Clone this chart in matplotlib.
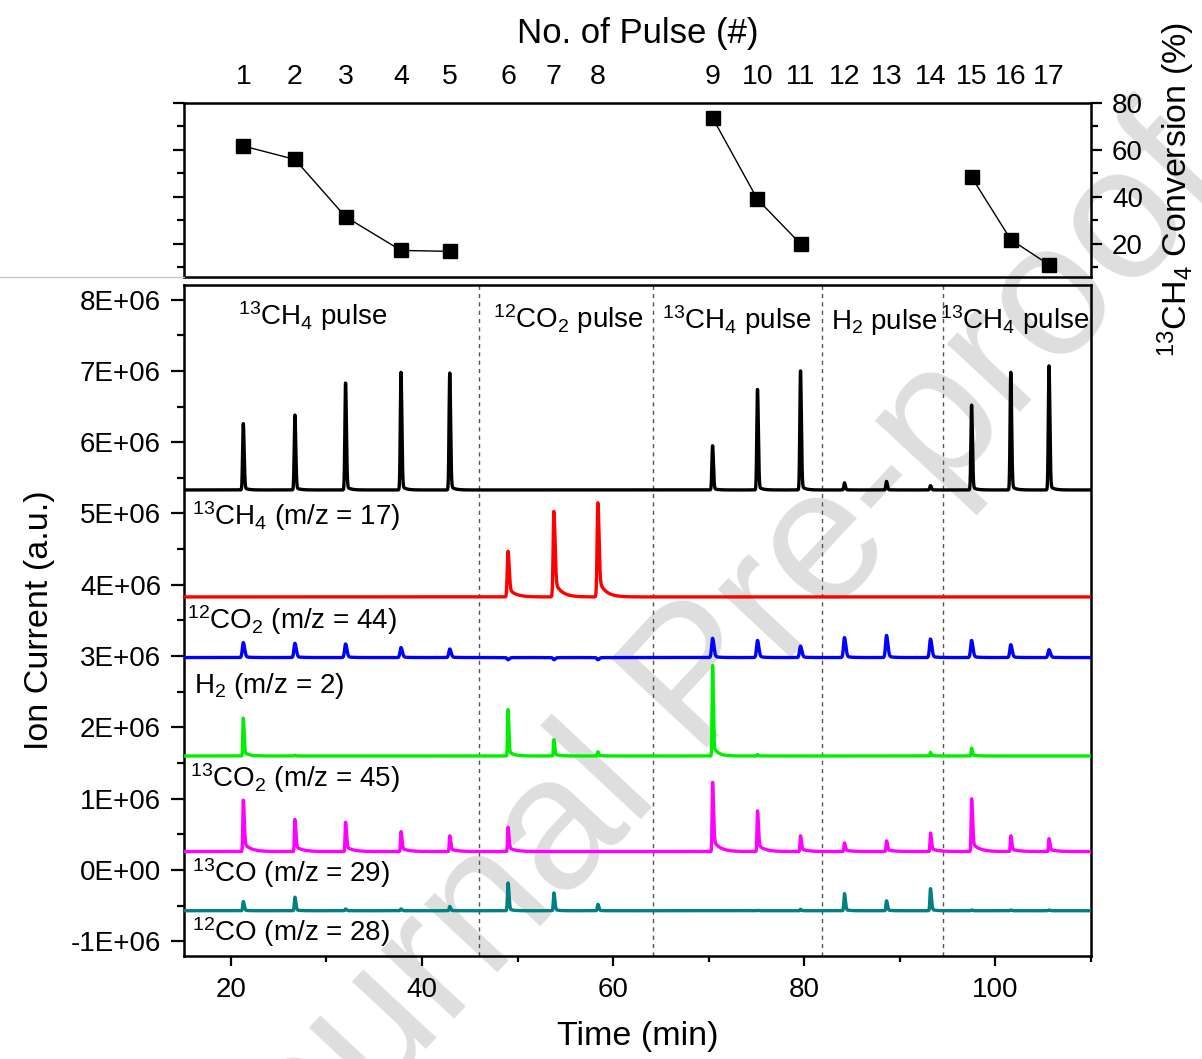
import numpy as np
import matplotlib
matplotlib.use("Agg")
import matplotlib.pyplot as plt
from matplotlib.ticker import MultipleLocator, FixedLocator, FixedFormatter
from matplotlib.lines import Line2D

plt.rcParams['font.family'] = ['Liberation Sans', 'DejaVu Sans']
plt.rcParams['mathtext.fontset'] = 'custom'
plt.rcParams['mathtext.rm'] = 'Liberation Sans'
plt.rcParams['mathtext.it'] = 'Liberation Sans:italic'
plt.rcParams['mathtext.bf'] = 'Liberation Sans:bold'

# ---------------- data ----------------
pulse_numbers = [str(i) for i in range(1, 18)]
pulse_times = [21.3, 26.7, 32.0, 37.8, 42.9, 49.0, 53.8, 58.4, 70.4, 75.1,
               79.6, 84.2, 88.6, 93.2, 97.5, 101.6, 105.6]

# 13CH4 conversion (%) for the three CH4 pulse series
conv_pulses_a = [1, 2, 3, 4, 5]
conv_a = [61.5, 55.8, 31.4, 17.1, 16.7]
conv_pulses_b = [9, 10, 11]
conv_b = [73.5, 38.8, 19.9]
conv_pulses_c = [15, 16, 17]
conv_c = [48.3, 21.7, 11.0]

# Ion current traces: baseline and peak tops (x1e6 a.u.) at each of the 17 pulses
base_black = 5.33
tops_black = [6.26, 6.38, 6.83, 6.98, 6.97, 5.33, 5.33, 5.33, 5.95, 6.74,
              7.00, 5.43, 5.45, 5.39, 6.52, 6.98, 7.07]
base_red = 3.83
tops_red = [3.83, 3.83, 3.83, 3.83, 3.83, 4.47, 5.03, 5.15, 3.83, 3.83,
            3.83, 3.83, 3.83, 3.83, 3.83, 3.83, 3.83]
base_blue = 2.98
tops_blue = [3.19, 3.18, 3.17, 3.12, 3.10, 2.95, 2.95, 2.95, 3.25, 3.22,
             3.14, 3.26, 3.29, 3.24, 3.22, 3.16, 3.09]
base_green = 1.60
tops_green = [2.13, 1.61, 1.60, 1.60, 1.60, 2.25, 1.83, 1.66, 2.87, 1.62,
              1.60, 1.60, 1.60, 1.65, 1.71, 1.60, 1.60]
base_magenta = 0.26
tops_magenta = [0.98, 0.71, 0.67, 0.54, 0.48, 0.60, 0.26, 0.26, 1.23, 0.83,
                0.48, 0.38, 0.41, 0.52, 1.00, 0.48, 0.44]
base_teal = -0.57
tops_teal = [-0.44, -0.38, -0.545, -0.545, -0.51, -0.18, -0.32, -0.48, -0.57, -0.565,
             -0.55, -0.33, -0.43, -0.26, -0.56, -0.56, -0.56]

section_bounds = [46.0, 64.2, 81.8, 94.5]
section_labels = ['$^{13}$CH$_4$ pulse', '$^{12}$CO$_2$ pulse', '$^{13}$CH$_4$ pulse',
                  'H$_2$ pulse', '$^{13}$CH$_4$ pulse']
section_label_x = [20.7, 47.4, 65.1, 82.8, 94.2]
section_label_y = [7.64, 7.60, 7.59, 7.59, 7.59]

trace_labels = ['$^{13}$CH$_4$ (m/z = 17)', '$^{12}$CO$_2$ (m/z = 44)', 'H$_2$ (m/z = 2)',
                '$^{13}$CO$_2$ (m/z = 45)', '$^{13}$CO (m/z = 29)', '$^{12}$CO (m/z = 28)']
trace_label_x = [15.9, 15.4, 16.1, 15.7, 15.9, 15.9]
trace_label_y = [4.84, 3.38, 2.48, 1.17, -0.16, -0.99]

ytick_vals = [-1, 0, 1, 2, 3, 4, 5, 6, 7, 8]
ytick_labels = ['-1E+06', '0E+00', '1E+06', '2E+06', '3E+06', '4E+06',
                '5E+06', '6E+06', '7E+06', '8E+06']


# ---------------- peak shape ----------------
def make_trace(t, times, tops, base, rise, fall, tail, tau):
    y = np.full_like(t, base, dtype=float)
    for t0, top in zip(times, tops):
        a = top - base
        if a == 0:
            continue
        dt = t - t0
        pos = np.clip(dt, 0, None)
        g = np.where(dt < 0, np.exp(-0.5 * (dt / rise) ** 2),
                     (1 - tail) * np.exp(-0.5 * (pos / fall) ** 2) + tail * np.exp(-pos / tau))
        y += a * g
    return y


t = np.linspace(15.1, 110.0, 19000)
series = [
    (base_black, tops_black, 'black', (0.07, 0.09, 0.04, 0.4)),
    (base_red, tops_red, '#ff0000', (0.08, 0.12, 0.2, 0.7)),
    (base_blue, tops_blue, '#0000ff', (0.1, 0.14, 0.08, 0.5)),
    (base_green, tops_green, '#00ee00', (0.05, 0.08, 0.12, 0.5)),
    (base_magenta, tops_magenta, '#ff00ff', (0.05, 0.1, 0.18, 0.7)),
    (base_teal, tops_teal, '#008080', (0.06, 0.1, 0.08, 0.4)),
]

fig = plt.figure(figsize=(12.02, 10.59), dpi=100)

# watermark
fig.text(0.583, 0.355, 'Journal Pre-proof', rotation=47, fontsize=136, color='#dedede',
         ha='center', va='center', zorder=-10)
fig.add_artist(Line2D([0, 0.153], [0.738, 0.738], color='#c8c8c8', lw=1.0))

ax = fig.add_axes([0.1531, 0.0973, 0.7546, 0.634])
axt = fig.add_axes([0.1531, 0.7380, 0.7546, 0.1652])
for a in (ax, axt):
    a.set_facecolor('none')
    for s in a.spines.values():
        s.set_linewidth(1.8)

# ---------------- bottom panel ----------------
for base, tops, color, (rise, fall, tail, tau) in series:
    y = make_trace(t, pulse_times, tops, base, rise, fall, tail, tau)
    ax.plot(t, y * 1e6, color=color, lw=2.4, solid_joinstyle='round', zorder=3)

for xb in section_bounds:
    ax.axvline(xb, color='#555555', lw=1.0, ls=(0, (3, 3)), zorder=1)

for lab, x, y in zip(section_labels, section_label_x, section_label_y):
    ax.text(x, y * 1e6, lab, fontsize=20, ha='left', va='baseline', zorder=4)
for lab, x, y in zip(trace_labels, trace_label_x, trace_label_y):
    ax.text(x, y * 1e6, lab, fontsize=20, ha='left', va='baseline', zorder=4)

ax.set_xlim(15.1, 110.0)
ax.set_ylim(-1.204e6, 8.21e6)
ax.xaxis.set_major_locator(MultipleLocator(20))
ax.xaxis.set_minor_locator(MultipleLocator(10))
ax.yaxis.set_major_locator(FixedLocator([v * 1e6 for v in ytick_vals]))
ax.yaxis.set_major_formatter(FixedFormatter(ytick_labels))
ax.yaxis.set_minor_locator(MultipleLocator(0.5e6))
ax.tick_params(axis='x', which='major', direction='out', length=7, width=1.6,
               labelsize=20, pad=8)
ax.tick_params(axis='x', which='minor', direction='out', length=4, width=1.6)
ax.tick_params(axis='y', which='major', direction='out', length=9.5, width=1.6,
               labelsize=20, pad=7)
ax.tick_params(axis='y', which='minor', direction='out', length=5, width=1.6)
ax.set_xlabel('Time (min)', fontsize=24.5, labelpad=13)
ax.set_ylabel('Ion Current (a.u.)', fontsize=24.5, labelpad=11)

# ---------------- top panel ----------------
pt = dict(zip(range(1, 18), pulse_times))
for pulses, vals in ((conv_pulses_a, conv_a), (conv_pulses_b, conv_b), (conv_pulses_c, conv_c)):
    axt.plot([pt[p] for p in pulses], vals, color='black', lw=1.0, marker='s',
             markersize=10.5, markerfacecolor='black', markeredgecolor='black', zorder=3)

axt.set_xlim(15.1, 110.0)
axt.set_ylim(5.6, 80)
axt.xaxis.tick_top()
axt.set_xticks(pulse_times)
axt.set_xticklabels(pulse_numbers)
axt.tick_params(axis='x', which='both', length=0, labelsize=20.5, pad=9,
                top=True, bottom=False, labeltop=True, labelbottom=False)
axt.xaxis.set_label_position('top')
axt.set_xlabel('No. of Pulse (#)', fontsize=25, labelpad=15)

axt.yaxis.set_major_locator(FixedLocator([20, 40, 60, 80]))
axt.yaxis.set_minor_locator(FixedLocator([10, 30, 50, 70]))
axt.tick_params(axis='y', which='both', left=True, right=True, labelleft=False,
                labelright=True, direction='out', width=1.6)
axt.tick_params(axis='y', which='major', length=8, labelsize=20, pad=7)
axt.tick_params(axis='y', which='minor', length=5)
axt.yaxis.set_label_position('right')
axt.set_ylabel('$^{13}$CH$_4$ Conversion (%)', fontsize=24.5, labelpad=9)

fig.savefig('out.png', dpi=100)
